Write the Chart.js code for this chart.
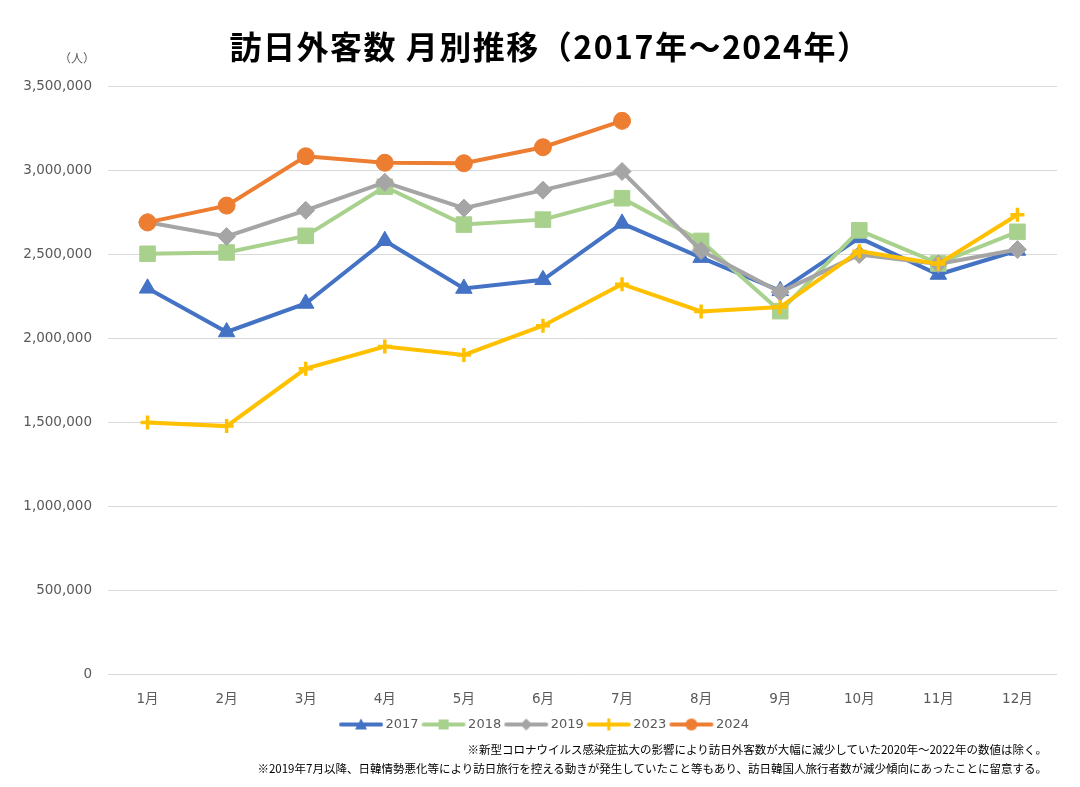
<!DOCTYPE html>
<html>
<head>
<meta charset="utf-8">
<script src="https://cdn.jsdelivr.net/npm/chart.js@4.4.0/dist/chart.umd.min.js"></script>
<style>
  body { margin: 0; background: #fff; }
  #wrap { position: relative; width: 1080px; height: 787px; }
  #title { position: absolute; left: 10px; top: 22px; width: 1080px; text-align: center;
           font: bold 32px "Noto Sans CJK JP"; letter-spacing: 1.5px; color: #000; }
  #unit { position: absolute; left: 59px; top: 49px; font: 12px "Noto Sans CJK JP"; color: #595959; }
  .note { position: absolute; right: 33px; font: 11.5px "Noto Sans CJK JP"; color: #000; white-space: nowrap; }
</style>
</head>
<body>
<div id="wrap">
  <canvas id="chart" width="1080" height="787"></canvas>
  <div id="title">訪日外客数 月別推移（2017年～2024年）</div>
  <div id="unit">（人）</div>
  <div class="note" style="top:741px">※新型コロナウイルス感染症拡大の影響により訪日外客数が大幅に減少していた2020年～2022年の数値は除く。</div>
  <div class="note" style="top:760px">※2019年7月以降、日韓情勢悪化等により訪日旅行を控える動きが発生していたこと等もあり、訪日韓国人旅行者数が減少傾向にあったことに留意する。</div>
</div>
<script>
var months = ["1月", "2月", "3月", "4月", "5月", "6月", "7月", "8月", "9月", "10月", "11月", "12月"]

var y2017 = [2295700, 2035800, 2205700, 2578900, 2294700, 2346400, 2682100, 2478500, 2280700, 2595800, 2377900, 2521000]
var y2018 = [2501400, 2509300, 2608000, 2900700, 2675100, 2704600, 2832000, 2578000, 2159600, 2640600, 2443800, 2632000]
var y2019 = [2689300, 2604300, 2760100, 2926700, 2773100, 2880000, 2991200, 2520100, 2272900, 2496600, 2441300, 2526400]
var y2023 = [1497300, 1475500, 1817500, 1949100, 1899200, 2073300, 2320600, 2158000, 2183800, 2516500, 2440500, 2734000]
var y2024 = [2688100, 2788000, 3081600, 3042900, 3040000, 3135600, 3292500]

var tickFont = { family: "DejaVu Sans, Noto Sans CJK JP", size: 13.5 }
var legendFont = { family: "DejaVu Sans, Noto Sans CJK JP", size: 13 }

// small legend icon: line with marker in the middle
function legendIcon(color, style) {
    var c = document.createElement('canvas')
    c.width = 46; c.height = 16
    var g = c.getContext('2d')
    g.strokeStyle = color; g.fillStyle = color
    g.lineWidth = 4; g.lineCap = 'round'
    g.beginPath(); g.moveTo(3, 8); g.lineTo(43, 8); g.stroke()
    var x = 23, y = 8
    g.beginPath()
    if (style === 'triangle') {
        g.moveTo(x, y - 6); g.lineTo(x + 6, y + 5); g.lineTo(x - 6, y + 5); g.closePath(); g.fill()
    } else if (style === 'rect') {
        g.fillRect(x - 5, y - 5, 10, 10)
    } else if (style === 'rectRot') {
        g.moveTo(x, y - 6); g.lineTo(x + 6, y); g.lineTo(x, y + 6); g.lineTo(x - 6, y); g.closePath(); g.fill()
    } else if (style === 'cross') {
        g.lineWidth = 3; g.lineCap = 'butt'
        g.moveTo(x, y - 6); g.lineTo(x, y + 6); g.stroke()
    } else {
        g.arc(x, y, 6, 0, Math.PI * 2); g.fill()
    }
    return c
}

function series(label, data, color, style, radius, order) {
    return {
        label: label,
        data: data,
        borderColor: color,
        backgroundColor: color,
        borderWidth: 4,
        pointStyle: style,
        pointRadius: radius,
        pointHoverRadius: radius,
        pointBorderWidth: style === 'cross' ? 3.5 : 1,
        pointBackgroundColor: color,
        pointBorderColor: color,
        order: order,
        icon: legendIcon(color, style)
    }
}

var ctx = document.getElementById("chart")

var chartGraph = new Chart(ctx, {
    type: 'line',
    data: {
        labels: months,
        datasets: [
            series("2017", y2017, '#4472C4', 'triangle', 9.5, 5),
            series("2018", y2018, '#A9D18E', 'rect', 11, 4),
            series("2019", y2019, '#A5A5A5', 'rectRot', 9, 3),
            series("2023", y2023, '#FFC000', 'cross', 7, 2),
            series("2024", y2024, '#ED7D31', 'circle', 8.5, 1)
        ]
    },
    options: {
        responsive: false,
        animation: false,
        layout: { padding: { top: 86, right: 0, bottom: 46, left: 12 } },
        scales: {
            x: {
                offset: true,
                grid: { display: false },
                border: { display: false },
                ticks: { color: '#595959', font: tickFont, padding: 9 },
                afterFit: function (s) { s.height = 37 }
            },
            y: {
                min: 0,
                max: 3500000,
                ticks: {
                    stepSize: 500000,
                    color: '#595959',
                    font: tickFont,
                    padding: 16,
                    callback: function (v) { return v.toLocaleString('en-US') }
                },
                grid: { color: '#D9D9D9', lineWidth: 1, drawTicks: false },
                border: { display: false },
                afterFit: function (s) { s.width = 96 }
            },
            // empty right-hand spacer so the legend centres like the original
            yr: {
                position: 'right',
                ticks: { display: false },
                grid: { display: false, drawTicks: false },
                border: { display: false },
                afterFit: function (s) { s.width = 23 }
            }
        },
        plugins: {
            tooltip: { enabled: false },
            legend: {
                position: 'bottom',
                labels: {
                    usePointStyle: true,
                    pointStyleWidth: 36,
                    padding: 7,
                    color: '#595959',
                    font: legendFont,
                    sort: function (a, b) { return a.datasetIndex - b.datasetIndex },
                    generateLabels: function (chart) {
                        return chart.data.datasets.map(function (ds, i) {
                            return {
                                text: ds.label,
                                fillStyle: ds.borderColor,
                                strokeStyle: ds.borderColor,
                                fontColor: '#595959',
                                lineWidth: 0,
                                pointStyle: ds.icon,
                                datasetIndex: i,
                                hidden: false
                            }
                        })
                    }
                }
            }
        }
    }
})
</script>
</body>
</html>
